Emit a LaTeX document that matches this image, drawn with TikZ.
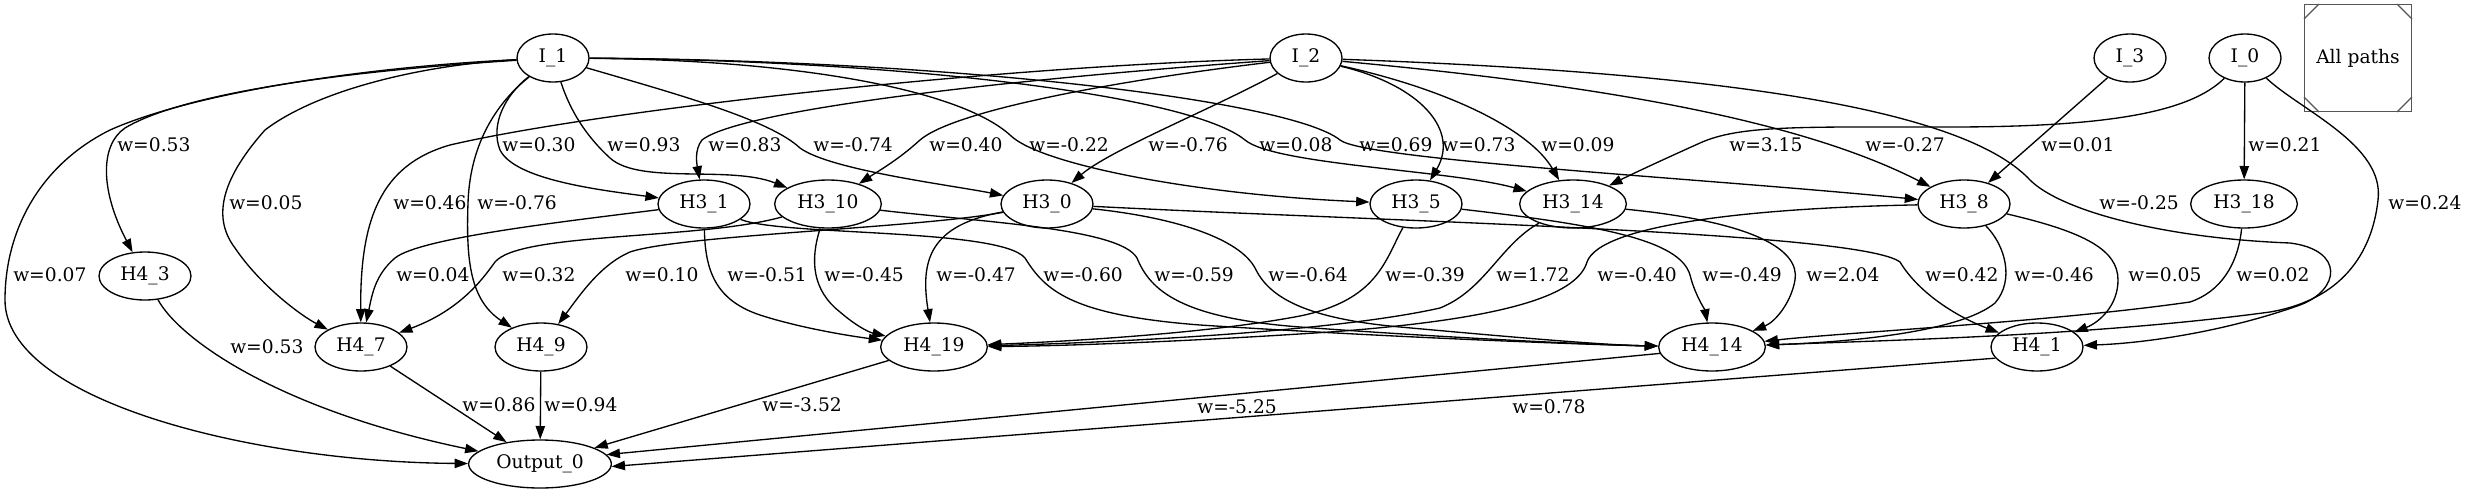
\documentclass[tikz,border=0pt]{standalone}
\usepackage{fontspec}
\setmainfont{DejaVu Serif}
\usetikzlibrary{shapes.geometric, arrows.meta, calc}
\definecolor{FrameGray}{HTML}{555555}

\tikzset{
  unit/.style={ellipse, draw, line width=1pt, inner sep=0pt,
               minimum height=36pt, minimum width=#1},
  unit/.default=69pt,
  link/.style={draw, line width=1pt, -{Triangle[length=10pt, width=7pt]}},
  weight/.style={anchor=west, inner sep=0pt}
}

\begin{document}
\begin{tikzpicture}[x=0.75pt, y=-0.75pt, font=\fontsize{14}{17}\selectfont]
\useasboundingbox (0,0) rectangle (2467,493);

% input units
\node[unit=54pt] (I-1) at (553,58) {I\_1};
\node[unit=54pt] (I-2) at (1306,58) {I\_2};
\node[unit=54pt] (I-3) at (2130,58) {I\_3};
\node[unit=54pt] (I-0) at (2245,58) {I\_0};

% legend box
\node[draw=FrameGray, line width=1pt, minimum size=80pt, inner sep=0pt] (legend) at (2358,58) {All paths};
\draw[FrameGray, line width=1pt] ($(legend.north west)+(0,15)$) -- ($(legend.north west)+(15,0)$);
\draw[FrameGray, line width=1pt] ($(legend.north east)+(0,15)$) -- ($(legend.north east)+(-15,0)$);
\draw[FrameGray, line width=1pt] ($(legend.south west)+(0,-15)$) -- ($(legend.south west)+(15,0)$);
\draw[FrameGray, line width=1pt] ($(legend.south east)+(0,-15)$) -- ($(legend.south east)+(-15,0)$);

% third layer
\node[unit] (H3-1) at (704,204) {H3\_1};
\node[unit=80pt] (H3-10) at (828,204) {H3\_10};
\node[unit] (H3-0) at (1047,204) {H3\_0};
\node[unit] (H3-5) at (1416,204) {H3\_5};
\node[unit=80pt] (H3-14) at (1573,204) {H3\_14};
\node[unit] (H3-8) at (1964,204) {H3\_8};
\node[unit=80pt] (H3-18) at (2244,204) {H3\_18};

% fourth layer
\node[unit] (H4-3) at (145,276) {H4\_3};
\node[unit] (H4-7) at (361,347) {H4\_7};
\node[unit] (H4-9) at (541,347) {H4\_9};
\node[unit=80pt] (H4-19) at (934,347) {H4\_19};
\node[unit=80pt] (H4-14) at (1712,347) {H4\_14};
\node[unit] (H4-1) at (2037,347) {H4\_1};

% output
\node[unit=107pt] (Out-0) at (540,464) {Output\_0};

% links from the inputs
\draw[link] (I-1) .. controls (330,72) and (180,95) .. (125,128) .. controls (100,145) and (100,190) .. (H4-3);
\draw[link] (I-1) .. controls (380,66) and (200,90) .. (110,130) .. controls (40,165) and (5,230) .. (5,300) .. controls (5,400) and (250,462) .. (Out-0);
\draw[link] (I-1) .. controls (430,64) and (320,88) .. (265,130) .. controls (225,175) and (210,215) .. (235,248) .. controls (260,285) and (300,315) .. (H4-7);
\draw[link] (I-1) .. controls (500,100) and (470,140) .. (468,203) .. controls (466,260) and (470,300) .. (H4-9);
\draw[link] (I-1) .. controls (505,95) and (490,125) .. (500,150) .. controls (515,180) and (600,190) .. (H3-1);
\draw[link] (I-1) .. controls (570,110) and (585,135) .. (610,158) .. controls (640,185) and (730,165) .. (H3-10);
\draw[link] (I-1) .. controls (680,95) and (770,120) .. (800,148) .. controls (830,170) and (950,185) .. (H3-0);
\draw[link] (I-1) .. controls (800,60) and (960,90) .. (1010,135) .. controls (1040,165) and (1200,195) .. (H3-5);
\draw[link] (I-1) .. controls (900,60) and (1190,95) .. (1245,140) .. controls (1275,165) and (1450,170) .. (H3-14);
\draw[link] (I-1) .. controls (950,60) and (1290,100) .. (1340,140) .. controls (1365,160) and (1700,178) .. (H3-8);

\draw[link] (I-2) .. controls (1000,80) and (740,110) .. (702,140) .. controls (694,150) and (697,165) .. (H3-1);
\draw[link] (I-2) .. controls (1000,66) and (600,110) .. (450,145) .. controls (380,165) and (360,220) .. (H4-7);
\draw[link] (I-2) .. controls (1120,80) and (955,110) .. (920,140) .. controls (898,160) and (880,170) .. (H3-10);
\draw[link] (I-2) .. controls (1210,110) and (1110,150) .. (H3-0);
\draw[link] (I-2) .. controls (1420,85) and (1460,130) .. (H3-5);
\draw[link] (I-2) .. controls (1450,90) and (1530,130) .. (H3-14);
\draw[link] (I-2) .. controls (1600,85) and (1800,120) .. (H3-8);
\draw[link] (I-2) .. controls (1700,72) and (1960,105) .. (2030,180) .. controls (2060,210) and (2160,238) .. (2290,243) .. controls (2345,250) and (2340,290) .. (2300,305) .. controls (2230,330) and (2150,343) .. (H4-1);

\draw[link] (I-0) -- (H3-18);
\draw[link] (I-0) .. controls (2190,112) and (2110,127) .. (1950,127) .. controls (1800,127) and (1740,125) .. (1700,143) .. controls (1660,161) and (1630,175) .. (H3-14);
\draw[link] (I-0) .. controls (2300,110) and (2385,145) .. (2378,200) .. controls (2372,255) and (2340,300) .. (2270,312) .. controls (2100,335) and (1900,340) .. (H4-14);
\draw[link] (I-3) -- (H3-8);

% links from the third layer
\draw[link] (H3-1) .. controls (560,222) and (420,238) .. (395,258) .. controls (375,275) and (372,295) .. (H4-7);
\draw[link] (H3-10) .. controls (700,240) and (520,232) .. (495,262) .. controls (482,280) and (460,310) .. (H4-7);
\draw[link] (H3-0) .. controls (920,228) and (680,235) .. (630,252) .. controls (600,265) and (580,295) .. (H4-9);
\draw[link] (H3-1) .. controls (705,270) and (715,300) .. (760,315) .. controls (800,328) and (850,336) .. (H4-19);
\draw[link] (H3-10) .. controls (810,260) and (812,290) .. (840,312) .. controls (855,325) and (868,332) .. (H4-19);
\draw[link] (H3-0) .. controls (930,225) and (920,260) .. (H4-19);
\draw[link] (H3-1) .. controls (780,236) and (1000,228) .. (1025,258) .. controls (1045,290) and (1070,315) .. (1200,325) .. controls (1400,338) and (1600,345) .. (H4-14);
\draw[link] (H3-10) .. controls (980,222) and (1120,228) .. (1137,258) .. controls (1150,290) and (1180,318) .. (1300,327) .. controls (1450,338) and (1600,345) .. (H4-14);
\draw[link] (H3-0) .. controls (1180,218) and (1240,240) .. (1255,268) .. controls (1268,295) and (1300,318) .. (1400,327) .. controls (1500,336) and (1600,345) .. (H4-14);
\draw[link] (H3-0) .. controls (1400,222) and (1860,232) .. (1900,262) .. controls (1920,295) and (1960,318) .. (H4-1);
\draw[link] (H3-5) .. controls (1385,260) and (1378,300) .. (1300,316) .. controls (1200,335) and (1050,342) .. (H4-19);
\draw[link] (H3-14) .. controls (1500,245) and (1485,290) .. (1440,308) .. controls (1320,335) and (1060,344) .. (H4-19);
\draw[link] (H3-8) .. controls (1750,208) and (1600,225) .. (1587,262) .. controls (1578,292) and (1520,318) .. (1330,332) .. controls (1180,342) and (1060,346) .. (H4-19);
\draw[link] (H3-5) .. controls (1600,225) and (1680,240) .. (1690,275) .. controls (1695,295) and (1705,310) .. (H4-14);
\draw[link] (H3-14) .. controls (1755,222) and (1800,250) .. (1795,280) .. controls (1791,303) and (1775,322) .. (H4-14);
\draw[link] (H3-8) .. controls (2005,245) and (2015,280) .. (1995,303) .. controls (1960,332) and (1850,342) .. (H4-14);
\draw[link] (H3-8) .. controls (2085,232) and (2118,250) .. (2118,280) .. controls (2118,305) and (2100,322) .. (H4-1);
\draw[link] (H3-18) .. controls (2238,265) and (2220,292) .. (2190,302) .. controls (2050,322) and (1850,332) .. (H4-14);

% links into the output
\draw[link] (H4-3) .. controls (180,340) and (280,410) .. (Out-0);
\draw[link] (H4-7) -- (Out-0);
\draw[link] (H4-9) -- (Out-0);
\draw[link] (H4-19) -- (Out-0);
\draw[link] (H4-14.187) -- (Out-0.8);
\draw[link] (H4-1.195) -- (Out-0.358);

% weights
\node[weight] (w01) at (117,145) {w=0.53};
\node[weight] (w02) at (502,145) {w=0.30};
\node[weight] (w03) at (607,145) {w=0.93};
\node[weight] (w04) at (708,145) {w=0.83};
\node[weight] (w05) at (813,145) {w=-0.74};
\node[weight] (w06) at (929,145) {w=0.40};
\node[weight] (w07) at (1029,145) {w=-0.22};
\node[weight] (w08) at (1148,145) {w=-0.76};
\node[weight] (w09) at (1259,145) {w=0.08};
\node[weight] (w10) at (1359,145) {w=0.69};
\node[weight] (w11) at (1442,145) {w=0.73};
\node[weight] (w12) at (1541,145) {w=0.09};
\node[weight] (w13) at (1729,145) {w=3.15};
\node[weight] (w14) at (1865,145) {w=-0.27};
\node[weight] (w15) at (2041,145) {w=0.01};
\node[weight] (w16) at (2248,145) {w=0.21};

\node[weight] (w17) at (229,203) {w=0.05};
\node[weight] (w18) at (393,203) {w=0.46};
\node[weight] (w19) at (477,203) {w=-0.76};
\node[weight] (w20) at (2099,203) {w=-0.25};
\node[weight] (w21) at (2388,203) {w=0.24};

\node[weight] (w22) at (13,275) {w=0.07};
\node[weight] (w23) at (396,275) {w=0.04};
\node[weight] (w24) at (502,275) {w=0.32};
\node[weight] (w25) at (625,275) {w=0.10};
\node[weight] (w26) at (727,275) {w=-0.51};
\node[weight] (w27) at (824,275) {w=-0.45};
\node[weight] (w28) at (936,275) {w=-0.47};
\node[weight] (w29) at (1043,275) {w=-0.60};
\node[weight] (w30) at (1154,275) {w=-0.59};
\node[weight] (w31) at (1268,275) {w=-0.64};
\node[weight] (w32) at (1385,275) {w=-0.39};
\node[weight] (w33) at (1496,275) {w=1.72};
\node[weight] (w34) at (1597,275) {w=-0.40};
\node[weight] (w35) at (1702,275) {w=-0.49};
\node[weight] (w36) at (1806,275) {w=2.04};
\node[weight] (w37) at (1925,275) {w=0.42};
\node[weight] (w38) at (2014,275) {w=-0.46};
\node[weight] (w39) at (2128,275) {w=0.05};
\node[weight] (w40) at (2236,275) {w=0.02};

\node[weight] (w41) at (230,347) {w=0.53};

\node[weight] (w42) at (462,405) {w=0.86};
\node[weight] (w43) at (544,405) {w=0.94};
\node[weight] (w44) at (762,405) {w=-3.52};
\node[weight] (w45) at (1197,407) {w=-5.25};
\node[weight] (w46) at (1512,407) {w=0.78};
\end{tikzpicture}
\end{document}
